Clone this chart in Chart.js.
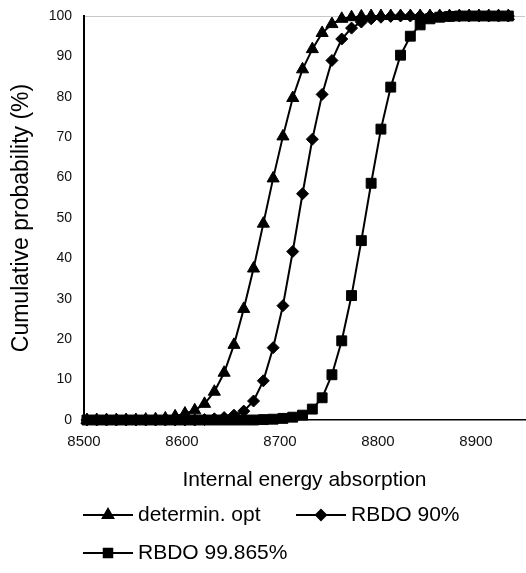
<!DOCTYPE html>
<html>
<head>
<meta charset="utf-8">
<script src="https://cdn.jsdelivr.net/npm/chart.js@4/dist/chart.umd.min.js"></script>
<style>
  html, body { margin: 0; padding: 0; background: #fff; }
  #wrap { width: 526px; height: 573px; }
</style>
</head>
<body>
<div id="wrap"><canvas id="myChart" width="526" height="573"></canvas></div>
<script>
// energy bins (x) shared by the three curves
let energie = [8503, 8513, 8523, 8533, 8543, 8553, 8563, 8573, 8583, 8593,
               8603, 8613, 8623, 8633, 8643, 8653, 8663, 8673, 8683, 8693,
               8703, 8713, 8723, 8733, 8743, 8753, 8763, 8773, 8783, 8793,
               8803, 8813, 8823, 8833, 8843, 8853, 8863, 8873, 8883, 8893,
               8903, 8913, 8923, 8933]

// cumulative probability (%)
let determinOpt = [0, 0, 0, 0, 0, 0, 0.1, 0.2, 0.4, 0.9,
                   1.6, 2.4, 4, 7, 11.7, 18.6, 27.5, 37.5, 48.6, 59.8,
                   70.2, 79.7, 86.8, 91.8, 95.8, 98, 99.3, 99.7, 99.9, 100,
                   100, 100, 100, 100, 100, 100, 100, 100, 100, 100,
                   100, 100, 100, 100]
let rbdo90 = [0, 0, 0, 0, 0, 0, 0, 0, 0, 0,
              0, 0, 0.1, 0.3, 0.6, 1.2, 2.2, 4.7, 9.7, 17.9,
              28.3, 41.7, 56, 69.5, 80.6, 89, 94.3, 97, 98.5, 99.3,
              99.7, 99.9, 100, 100, 100, 100, 100, 100, 100, 100,
              100, 100, 100, 100]
let rbdo99 = [0, 0, 0, 0, 0, 0, 0, 0, 0, 0,
              0, 0, 0, 0, 0, 0, 0, 0, 0.1, 0.2,
              0.4, 0.7, 1.2, 2.7, 5.5, 11.2, 19.6, 30.8, 44.4, 58.6,
              72, 82.4, 90.3, 95, 97.8, 99.3, 99.7, 99.9, 100, 100,
              100, 100, 100, 100]

let yTicks = [0, 10, 20, 30, 40, 50, 60, 70, 80, 90, 100]
let xTicks = [8500, 8600, 8700, 8800, 8900]

const points = (ys) => energie.map((x, i) => ({ x: x, y: ys[i] }))

const serie = (label, ys, style, radius) => ({
    label: label,
    data: points(ys),
    showLine: true,
    borderColor: '#000',
    backgroundColor: '#000',
    borderWidth: 2,
    pointStyle: style,
    pointRadius: radius,
    pointBorderWidth: 1,
    pointBorderColor: '#000',
    pointBackgroundColor: '#000',
    tension: 0,
    clip: false
})

// legend: line with the marker in the middle, like the original
const legendeLigne = {
    id: 'legendeLigne',
    afterDraw(chart) {
        const ctx = chart.ctx
        const places = [[83, 515], [296, 515], [83, 553]]
        ctx.save()
        chart.data.datasets.forEach((ds, i) => {
            const [x, y] = places[i]
            ctx.strokeStyle = ds.borderColor
            ctx.fillStyle = ds.pointBackgroundColor
            ctx.lineWidth = 2
            ctx.beginPath()
            ctx.moveTo(x, y)
            ctx.lineTo(x + 50, y)
            ctx.stroke()
            Chart.helpers.drawPoint(ctx, {
                pointStyle: ds.pointStyle,
                radius: ds.pointRadius - 1,
                borderWidth: 1,
                rotation: 0
            }, x + 25, y)
            ctx.fillStyle = '#000'
            ctx.font = '21px "Liberation Sans", Arial, sans-serif'
            ctx.textBaseline = 'middle'
            ctx.textAlign = 'left'
            ctx.fillText(ds.label, x + 55, y)
        })
        ctx.restore()
    }
}

const data = {
    datasets: [
        serie('determin. opt', determinOpt, 'triangle', 7),
        serie('RBDO 90%', rbdo90, 'rectRot', 6),
        serie('RBDO 99.865%', rbdo99, 'rect', 7)
    ]
}

const config = {
    type: 'scatter',
    data: data,
    options: {
        responsive: false,
        animation: false,
        layout: { autoPadding: false, padding: { left: 8, top: 16, right: 1, bottom: 80 } },
        plugins: {
            legend: { display: false },
            tooltip: { enabled: false }
        },
        scales: {
            x: {
                type: 'linear',
                min: 8500,
                max: 8950,
                afterBuildTicks: (s) => { s.ticks = xTicks.map((v) => ({ value: v })) },
                afterFit: (s) => { s.height = 73; s.paddingLeft = 0; s.paddingRight = 0 },
                grid: { display: false, drawTicks: false },
                border: { color: '#000', width: 1.5 },
                ticks: {
                    padding: 13,
                    color: '#111',
                    callback: (v) => String(v),
                    font: { family: '"Liberation Sans", Arial, sans-serif', size: 15 }
                },
                title: {
                    display: true,
                    text: 'Internal energy absorption',
                    color: '#000',
                    padding: { top: 20, bottom: 0 },
                    font: { family: '"Liberation Sans", Arial, sans-serif', size: 21 }
                }
            },
            y: {
                min: 0,
                max: 100,
                afterBuildTicks: (s) => { s.ticks = yTicks.map((v) => ({ value: v })) },
                afterFit: (s) => { s.width = 76; s.paddingTop = 0; s.paddingBottom = 0 },
                grid: {
                    drawTicks: false,
                    color: (c) => c.tick && c.tick.value === 100 ? '#c8c8c8' : 'rgba(0,0,0,0)'
                },
                border: { color: '#000', width: 2 },
                ticks: {
                    padding: 12,
                    color: '#111',
                    font: { family: '"Liberation Sans", Arial, sans-serif', size: 14 }
                },
                title: {
                    display: true,
                    text: 'Cumulative probability (%)',
                    color: '#000',
                    padding: { top: 0, bottom: 0 },
                    font: { family: '"Liberation Sans", Arial, sans-serif', size: 23 }
                }
            }
        }
    },
    plugins: [legendeLigne]
}

const ctx = document.getElementById('myChart')

new Chart(ctx, config)
</script>
</body>
</html>
